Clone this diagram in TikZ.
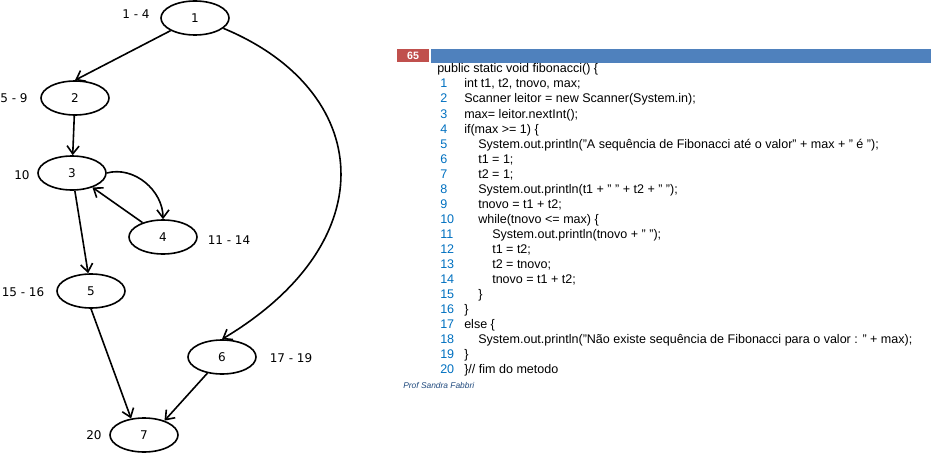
\documentclass[tikz,border=0pt]{standalone}
\usepackage{fontspec}
\setmainfont{Liberation Sans}
\newfontfamily\graphfont{DejaVu Sans}
\usetikzlibrary{shapes.geometric,arrows.meta}

\definecolor{slidered}{RGB}{192,80,77}
\definecolor{slideblue}{RGB}{79,129,189}
\definecolor{linenum}{RGB}{0,112,192}
\definecolor{authorblue}{RGB}{31,73,125}

\tikzset{
  block/.style={ellipse, draw, line width=1.2pt, minimum width=51pt, minimum height=25.5pt, inner sep=0pt, font=\graphfont\fontsize{9}{10}\selectfont},
  lbl/.style={font=\graphfont\fontsize{9}{10}\selectfont, inner sep=0pt},
  flow/.style={->, line width=1.2pt},
  code/.style={anchor=base west, inner sep=0pt, font=\fontsize{9.4}{11}\selectfont},
  num/.style={code, text=linenum},
}

\begin{document}
\begin{tikzpicture}[x=0.75pt, y=-0.75pt, >={Straight Barb[length=6pt,width=9pt]}]
\useasboundingbox (0,0) rectangle (931,453);

% control flow graph
\node[block] (n1) at (195,18) {1};
\node[block] (n2) at (75,98) {2};
\node[block] (n3) at (72,173) {3};
\node[block] (n4) at (163,237) {4};
\node[block] (n5) at (91,291) {5};
\node[block] (n6) at (222,357) {6};
\node[block] (n7) at (144,435) {7};

% line ranges of each node
\node[lbl] (l1) at (136,14) {1 - 4};
\node[lbl] (l2) at (14,98) {5 - 9};
\node[lbl] (l3) at (22,175) {10};
\node[lbl] (l4) at (229,240) {11 - 14};
\node[lbl] (l5) at (23,292) {15 - 16};
\node[lbl] (l6) at (291,358) {17 - 19};
\node[lbl] (l7) at (94,435) {20};

% edges
\draw[flow] (n1) -- (n2.north);
\draw[flow] (n2) -- (n3);
\draw[flow] (n3.east) to[out=15,in=90] (n4.north);
\draw[flow] (n4) -- (n3);
\draw[flow] (n3) -- (n5);
\draw[flow] (n5.south) -- (n7.128);
\draw[flow] (n6) -- (n7.35);
\draw[flow] (n1.-20) .. controls (372,90) and (388,240) .. (n6.north);

% slide header
\fill[slidered] (397,49) rectangle (429,62);
\node[text=white, font=\bfseries\fontsize{8}{9}\selectfont, inner sep=0pt] (pg) at (413,56) {65};
\fill[slideblue] (431,49) rectangle (931,63);

% source code
\node[code] (c0) at (437,73) {public static void fibonacci() \{};
\foreach \i in {1,...,20}
  \node[num] (k\i) at (440,73+15*\i) {\i};
\node[code] (c1) at (464,88) {int t1, t2, tnovo, max;};
\node[code] (c2) at (464,103) {Scanner leitor = new Scanner(System.in);};
\node[code] (c3) at (464,118) {max= leitor.nextInt();};
\node[code] (c4) at (464,133) {if(max >= 1) \{};
\node[code] (c5) at (478,148) {System.out.println("A sequência de Fibonacci até o valor" + max + " é ");};
\node[code] (c6) at (478,163) {t1 = 1;};
\node[code] (c7) at (478,178) {t2 = 1;};
\node[code] (c8) at (478,193) {System.out.println(t1 + " " + t2 + " ");};
\node[code] (c9) at (478,208) {tnovo = t1 + t2;};
\node[code] (c10) at (478,223) {while(tnovo <= max) \{};
\node[code] (c11) at (492,238) {System.out.println(tnovo + " ");};
\node[code] (c12) at (492,253) {t1 = t2;};
\node[code] (c13) at (492,268) {t2 = tnovo;};
\node[code] (c14) at (492,283) {tnovo = t1 + t2;};
\node[code] (c15) at (478,298) {\}};
\node[code] (c16) at (464,313) {\}};
\node[code] (c17) at (464,328) {else \{};
\node[code] (c18) at (478,343) {System.out.println("Não existe sequência de Fibonacci para o valor : " + max);};
\node[code] (c19) at (464,358) {\}};
\node[code] (c20) at (464,373) {\}// fim do metodo};

% footer
\node[anchor=west, inner sep=0pt, text=authorblue, font=\itshape\fontsize{6.3}{7}\selectfont] (author) at (403,385) {Prof Sandra Fabbri};
\end{tikzpicture}
\end{document}
